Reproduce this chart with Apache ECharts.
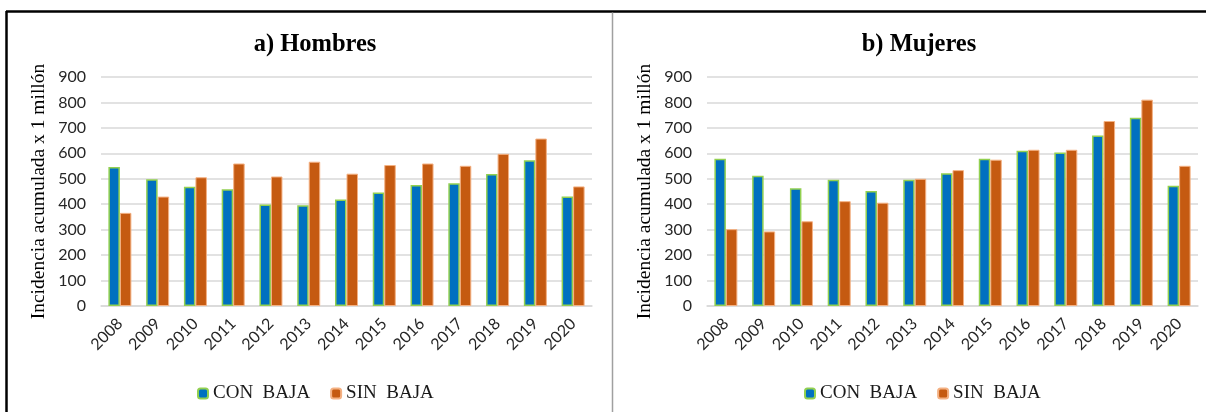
<!DOCTYPE html>
<html>
<head>
<meta charset="utf-8">
<script src="https://cdn.jsdelivr.net/npm/echarts@6/dist/echarts.min.js"></script>
<style>
  html, body { margin: 0; padding: 0; background: #ffffff; }
  #chart { width: 1206px; height: 412px; }
</style>
</head>
<body>
<div id="chart"></div>
<script>
// Años del periodo
const years = ['2008', '2009', '2010', '2011', '2012', '2013', '2014', '2015', '2016', '2017', '2018', '2019', '2020'];

// a) Hombres: incidencia acumulada x 1 millón
const hombresCon = [546, 498, 469, 459, 399, 396, 419, 446, 476, 482, 519, 573, 430];
const hombresSin = [366, 430, 506, 560, 509, 567, 520, 554, 560, 551, 598, 658, 470];

// b) Mujeres: incidencia acumulada x 1 millón
const mujeresCon = [579, 512, 463, 496, 452, 496, 522, 579, 610, 603, 670, 740, 473];
const mujeresSin = [302, 293, 333, 412, 406, 500, 534, 575, 614, 614, 727, 811, 551];

const seriesNames = ['CON  BAJA', 'SIN  BAJA'];
const panelTitles = ['a) Hombres', 'b) Mujeres'];
const axisTitle = 'Incidencia acumulada x 1 millón';

const BLUE = '#0070C0', GREEN = '#92D050', ORANGE = '#C55A11', ORANGE_EDGE = '#F4B183';
const SERIF = '"Liberation Serif", "Times New Roman", serif';
const SANS = 'Lato, "Noto Sans", sans-serif';

const grids = [
  { left: 101, top: 77, width: 491, height: 229 },
  { left: 707, top: 77, width: 491, height: 229 }
];

function xAxis(i) {
  return {
    type: 'category', gridIndex: i, data: years,
    axisLine: { lineStyle: { color: '#D9D9D9', width: 1.5 } },
    axisTick: { show: false },
    axisLabel: { rotate: 45, interval: 0, margin: 15, fontFamily: SANS, fontSize: 16, color: '#262626' }
  };
}
function yAxis(i) {
  return {
    type: 'value', gridIndex: i, min: 0, max: 900, interval: 100,
    name: axisTitle, nameLocation: 'middle', nameGap: 52,
    nameTextStyle: { fontFamily: SERIF, fontSize: 19.5, color: '#000000' },
    axisLine: { show: false }, axisTick: { show: false },
    splitLine: { lineStyle: { color: '#D9D9D9', width: 1.5 } },
    axisLabel: { margin: 15, fontFamily: SANS, fontSize: 16, color: '#262626' }
  };
}
function bars(name, data, i, fill, edge, edgeWidth) {
  return {
    type: 'bar', name: name, data: data, xAxisIndex: i, yAxisIndex: i,
    barWidth: 11.5, barGap: '0%',
    itemStyle: { color: fill, borderColor: edge, borderWidth: edgeWidth },
    emphasis: { disabled: true }
  };
}
function legend(left) {
  return {
    data: seriesNames, left: left, top: 379, itemWidth: 10, itemHeight: 10,
    itemGap: 20,
    textStyle: { fontFamily: SERIF, fontSize: 19, color: '#1a1a1a' },
    selectedMode: false
  };
}

const chart = echarts.init(document.getElementById('chart'), null, { renderer: 'canvas' });
chart.setOption({
  animation: false,
  backgroundColor: '#ffffff',
  title: [
    { text: panelTitles[0], left: 310, top: 27, textAlign: 'center',
      textStyle: { fontFamily: SERIF, fontWeight: 'bold', fontSize: 24.5, color: '#000000' } },
    { text: panelTitles[1], left: 914, top: 27, textAlign: 'center',
      textStyle: { fontFamily: SERIF, fontWeight: 'bold', fontSize: 24.5, color: '#000000' } }
  ],
  legend: [legend(192), legend(799)],
  grid: grids,
  xAxis: [xAxis(0), xAxis(1)],
  yAxis: [yAxis(0), yAxis(1)],
  series: [
    bars(seriesNames[0], hombresCon, 0, BLUE, GREEN, 1.5),
    bars(seriesNames[1], hombresSin, 0, ORANGE, ORANGE_EDGE, 1),
    bars(seriesNames[0], mujeresCon, 1, BLUE, GREEN, 1.5),
    bars(seriesNames[1], mujeresSin, 1, ORANGE, ORANGE_EDGE, 1)
  ],
  graphic: [
    // marco del panel y separador entre gráficos
    { type: 'line', shape: { x1: 6, y1: 11.5, x2: 1206, y2: 11.5 }, style: { stroke: '#000000', lineWidth: 2.5 } },
    { type: 'line', shape: { x1: 6.5, y1: 11, x2: 6.5, y2: 412 }, style: { stroke: '#000000', lineWidth: 2.5 } },
    { type: 'line', shape: { x1: 612.5, y1: 12.5, x2: 612.5, y2: 412 }, style: { stroke: '#A0A0A0', lineWidth: 1.5 } }
  ]
});
</script>
</body>
</html>
